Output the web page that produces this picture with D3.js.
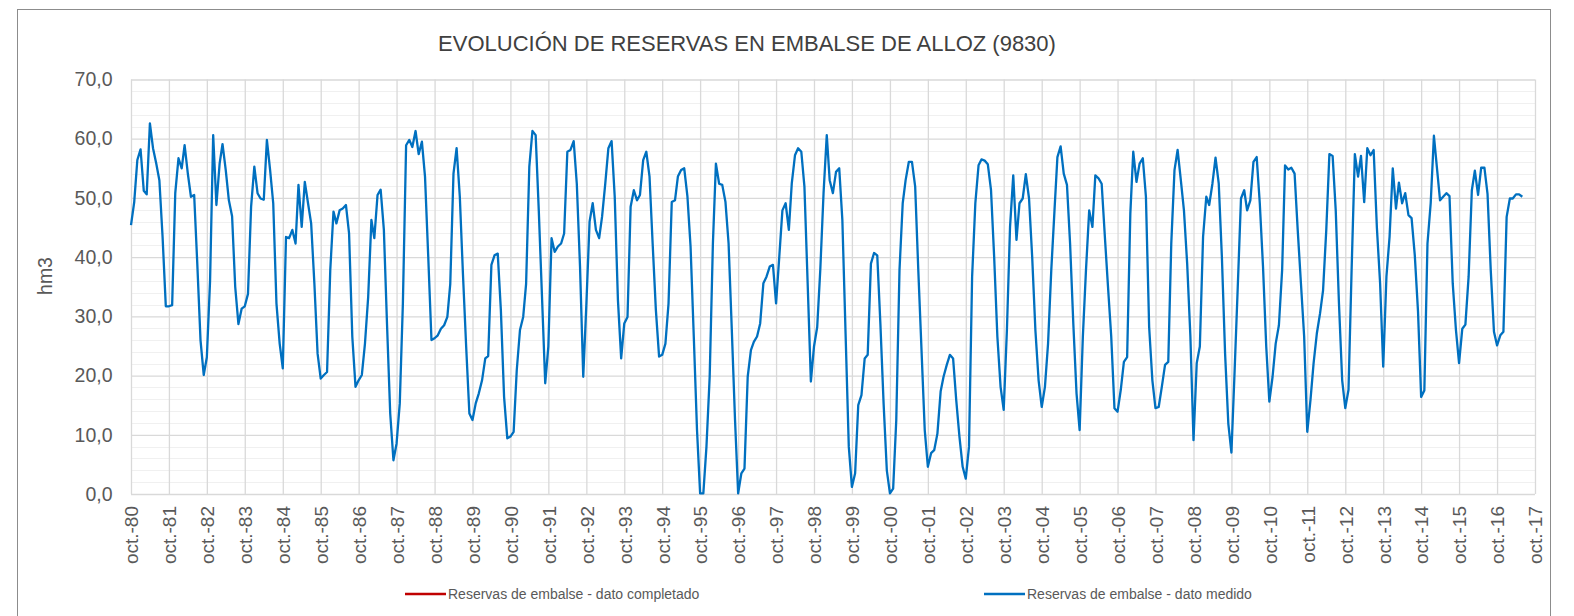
<!DOCTYPE html>
<html>
<head>
<meta charset="utf-8">
<script src="https://cdn.jsdelivr.net/npm/d3@7"></script>
<style>
    body { margin: 0; background: #ffffff; }
    svg { display: block; font-family: 'Liberation Sans', Arial, sans-serif; }
</style>
</head>
<body>
<svg id="chart" width="1574" height="616"></svg>
<script>
// reservas mensuales (hm3), una fila por año hidrológico (oct - sep)
const reservasMedidas = [
    45.4, 49.3, 56.4, 58.2, 51.2, 50.6, 62.6, 58.4, 55.8, 53.0, 43.4, 31.7,
    31.7, 31.9, 50.8, 56.7, 55.0, 58.9, 54.1, 50.2, 50.5, 38.9, 26.0, 20.1,
    23.1, 36.0, 60.6, 48.8, 55.8, 59.1, 54.7, 49.6, 46.9, 35.0, 28.7, 31.3,
    31.7, 33.8, 48.5, 55.3, 50.8, 49.9, 49.7, 59.8, 54.7, 49.1, 32.2, 25.4,
    21.2, 43.4, 43.2, 44.6, 42.3, 52.2, 45.1, 52.7, 49.1, 45.7, 35.6, 23.7,
    19.5, 20.1, 20.6, 37.8, 47.7, 45.7, 47.9, 48.2, 48.8, 44.0, 26.6, 18.1,
    19.2, 20.1, 25.4, 33.3, 46.3, 43.2, 50.5, 51.4, 44.6, 28.8, 13.6, 5.7,
    8.5, 15.3, 32.2, 58.9, 59.8, 58.6, 61.3, 57.4, 59.5, 53.6, 40.1, 26.0,
    26.3, 26.8, 27.9, 28.5, 29.9, 35.5, 54.1, 58.4, 50.2, 37.2, 24.9, 13.6,
    12.5, 15.3, 17.0, 19.2, 22.9, 23.3, 38.7, 40.3, 40.6, 31.1, 16.4, 9.4,
    9.7, 10.5, 20.9, 27.7, 29.9, 35.5, 55.3, 61.3, 60.6, 47.9, 33.3, 18.7,
    24.9, 43.2, 40.9, 41.8, 42.3, 44.0, 57.8, 58.1, 59.6, 52.4, 38.4, 19.8,
    32.0, 46.0, 49.1, 44.6, 43.2, 46.8, 52.4, 58.4, 59.6, 50.2, 32.7, 22.9,
    28.8, 29.9, 48.5, 51.3, 49.6, 50.5, 56.4, 57.8, 53.6, 42.3, 31.1, 23.2,
    23.5, 25.4, 32.2, 49.3, 49.6, 53.6, 54.7, 55.0, 50.2, 41.8, 26.6, 10.8,
    0.1, 0.1, 8.0, 19.8, 42.3, 55.8, 52.4, 52.2, 49.3, 42.3, 27.7, 12.5,
    0.1, 3.5, 4.3, 19.8, 24.3, 25.7, 26.6, 28.8, 35.6, 36.7, 38.4, 38.7,
    32.2, 40.1, 47.9, 49.1, 44.6, 52.4, 57.2, 58.4, 57.8, 51.9, 35.6, 19.0,
    24.9, 28.2, 38.0, 50.8, 60.6, 53.0, 50.8, 54.4, 55.0, 46.3, 27.1, 8.0,
    1.2, 3.5, 15.0, 16.7, 22.9, 23.5, 38.9, 40.7, 40.3, 28.8, 15.3, 4.0,
    0.1, 0.9, 12.5, 37.8, 49.1, 53.0, 56.1, 56.1, 51.9, 37.8, 24.3, 10.8,
    4.6, 6.9, 7.4, 10.2, 17.3, 19.8, 21.8, 23.5, 22.9, 15.9, 9.7, 4.6,
    2.6, 8.0, 36.7, 49.1, 55.5, 56.5, 56.3, 55.7, 51.3, 40.1, 26.6, 18.1,
    14.2, 27.7, 45.1, 53.8, 42.9, 49.1, 49.9, 54.0, 49.9, 40.1, 27.7, 19.2,
    14.7, 18.1, 25.4, 37.8, 47.9, 56.9, 58.7, 54.1, 52.2, 42.3, 28.8, 17.0,
    10.8, 26.6, 37.8, 47.9, 45.1, 53.8, 53.3, 52.4, 43.4, 35.0, 26.6, 14.5,
    13.9, 17.6, 22.3, 23.1, 47.4, 57.8, 52.7, 55.8, 56.7, 50.2, 28.2, 19.2,
    14.5, 14.7, 18.1, 21.8, 22.3, 42.3, 54.7, 58.1, 53.0, 47.9, 38.9, 26.6,
    9.1, 22.1, 24.9, 43.4, 50.2, 48.8, 52.4, 56.8, 52.4, 40.1, 23.7, 11.9,
    7.0, 20.9, 35.0, 49.9, 51.3, 47.9, 49.6, 56.1, 56.9, 49.1, 38.4, 24.9,
    15.6, 19.8, 25.4, 28.5, 37.8, 55.5, 54.8, 55.1, 54.1, 44.6, 35.6, 26.6,
    10.5, 15.9, 22.1, 27.1, 30.5, 34.4, 44.6, 57.4, 57.1, 47.9, 32.2, 19.2,
    14.5, 17.6, 38.0, 57.4, 53.6, 57.1, 49.3, 58.4, 57.2, 58.1, 45.0, 35.6,
    21.5, 36.7, 43.4, 55.0, 48.2, 52.6, 49.1, 50.8, 47.1, 46.6, 40.3, 30.8,
    16.4, 17.5, 42.3, 49.1, 60.5, 55.3, 49.6, 50.2, 50.8, 50.3, 35.6, 27.7,
    22.1, 27.9, 28.6, 36.7, 51.3, 54.6, 50.5, 55.1, 55.1, 50.7, 37.8, 27.4,
    25.1, 26.8, 27.4, 46.8, 49.9, 49.9, 50.6, 50.6, 50.2
];

// no hay meses completados en la serie, solo aparece en la leyenda
const reservasCompletadas = [];

const etiquetasX = [
    'oct.-80', 'oct.-81', 'oct.-82', 'oct.-83', 'oct.-84', 'oct.-85', 'oct.-86',
    'oct.-87', 'oct.-88', 'oct.-89', 'oct.-90', 'oct.-91', 'oct.-92', 'oct.-93',
    'oct.-94', 'oct.-95', 'oct.-96', 'oct.-97', 'oct.-98', 'oct.-99', 'oct.-00',
    'oct.-01', 'oct.-02', 'oct.-03', 'oct.-04', 'oct.-05', 'oct.-06', 'oct.-07',
    'oct.-08', 'oct.-09', 'oct.-10', 'oct.-11', 'oct.-12', 'oct.-13', 'oct.-14',
    'oct.-15', 'oct.-16', 'oct.-17'
];

const ticksY = [0, 10, 20, 30, 40, 50, 60, 70];

const series = [
    { name: 'Reservas de embalse - dato completado', color: '#c00000', values: reservasCompletadas },
    { name: 'Reservas de embalse - dato medido', color: '#0070c0', values: reservasMedidas }
];

const params = {
    width: 1574,
    height: 616,
    plot: { left: 131, right: 1535, top: 79.5, bottom: 494 },
    textColor: '#595959',
    gridColor: '#d9d9d9',
    minorGridColor: '#f0f0f0',
    fontFamily: "'Liberation Sans', Arial, sans-serif"
};

const svg = d3.select('#chart');
const inicio = new Date(Date.UTC(1980, 9, 1));
const fecha = i => d3.utcMonth.offset(inicio, i);

const x = d3.scaleUtc()
    .domain([inicio, fecha((etiquetasX.length - 1) * 12)])
    .range([params.plot.left, params.plot.right]);

const y = d3.scaleLinear()
    .domain([d3.min(ticksY), d3.max(ticksY)])
    .range([params.plot.bottom, params.plot.top]);

// marco exterior
svg.append('rect')
    .attr('x', 17.5)
    .attr('y', 9.5)
    .attr('width', 1533)
    .attr('height', 640)
    .attr('fill', 'none')
    .attr('stroke', '#8c8c8c')
    .attr('stroke-width', 1);

svg.append('text')
    .attr('x', 747)
    .attr('y', 51)
    .attr('text-anchor', 'middle')
    .attr('fill', '#404040')
    .style('font-size', '22px')
    .text('EVOLUCIÓN DE RESERVAS EN EMBALSE DE ALLOZ (9830)');

// rejilla secundaria cada 2 hm3
const minorTicks = d3.range(0, 70, 2).filter(v => v % 10 !== 0);
svg.append('g')
    .selectAll('line')
    .data(minorTicks)
    .join('line')
    .attr('x1', params.plot.left)
    .attr('x2', params.plot.right)
    .attr('y1', d => Math.round(y(d)) + 0.5)
    .attr('y2', d => Math.round(y(d)) + 0.5)
    .attr('stroke', params.minorGridColor)
    .attr('stroke-width', 1);

// rejilla principal horizontal
svg.append('g')
    .attr('transform', `translate(${params.plot.left},0)`)
    .call(d3.axisLeft(y)
        .tickValues(ticksY)
        .tickSize(-(params.plot.right - params.plot.left))
        .tickFormat(d => d3.format('.1f')(d).replace('.', ',')))
    .call(g => g.select('.domain').remove())
    .call(g => g.selectAll('.tick line')
        .attr('stroke', params.gridColor)
        .attr('stroke-width', 1.3))
    .call(g => g.selectAll('.tick text')
        .attr('x', -18.5)
        .attr('fill', params.textColor)
        .style('font-size', '19.5px')
        .style('font-family', params.fontFamily));

// rejilla vertical y etiquetas de octubre
const ticksX = etiquetasX.map((d, i) => fecha(i * 12));
svg.append('g')
    .attr('transform', `translate(0,${params.plot.bottom})`)
    .call(d3.axisBottom(x)
        .tickValues(ticksX)
        .tickSize(-(params.plot.bottom - params.plot.top))
        .tickFormat((d, i) => etiquetasX[i]))
    .call(g => g.select('.domain').remove())
    .call(g => g.selectAll('.tick line')
        .attr('stroke', params.gridColor)
        .attr('stroke-width', 1.3))
    .call(g => g.selectAll('.tick text')
        .attr('transform', 'rotate(-90)')
        .attr('x', -12)
        .attr('y', 0)
        .attr('dy', '0.36em')
        .attr('text-anchor', 'end')
        .attr('fill', params.textColor)
        .style('font-size', '19px')
        .style('font-family', params.fontFamily));

svg.append('text')
    .attr('transform', 'translate(45,276) rotate(-90)')
    .attr('dy', '0.35em')
    .attr('text-anchor', 'middle')
    .attr('fill', params.textColor)
    .style('font-size', '19.5px')
    .text('hm3');

const line = d3.line()
    .defined(d => d != null)
    .x((d, i) => x(fecha(i)))
    .y(d => y(d));

svg.append('g')
    .selectAll('path')
    .data(series)
    .join('path')
    .attr('d', d => line(d.values))
    .attr('fill', 'none')
    .attr('stroke', d => d.color)
    .attr('stroke-width', 2.3)
    .attr('stroke-linejoin', 'round');

// leyenda
const legendX = [405, 984];
const legend = svg.append('g')
    .selectAll('g')
    .data(series)
    .join('g')
    .attr('transform', (d, i) => `translate(${legendX[i]},594)`);

legend.append('line')
    .attr('x1', 0)
    .attr('x2', 41)
    .attr('stroke', d => d.color)
    .attr('stroke-width', 2.3);

legend.append('text')
    .attr('x', 43)
    .attr('dy', '0.35em')
    .attr('fill', params.textColor)
    .style('font-size', '14px')
    .text(d => d.name);
</script>
</body>
</html>
